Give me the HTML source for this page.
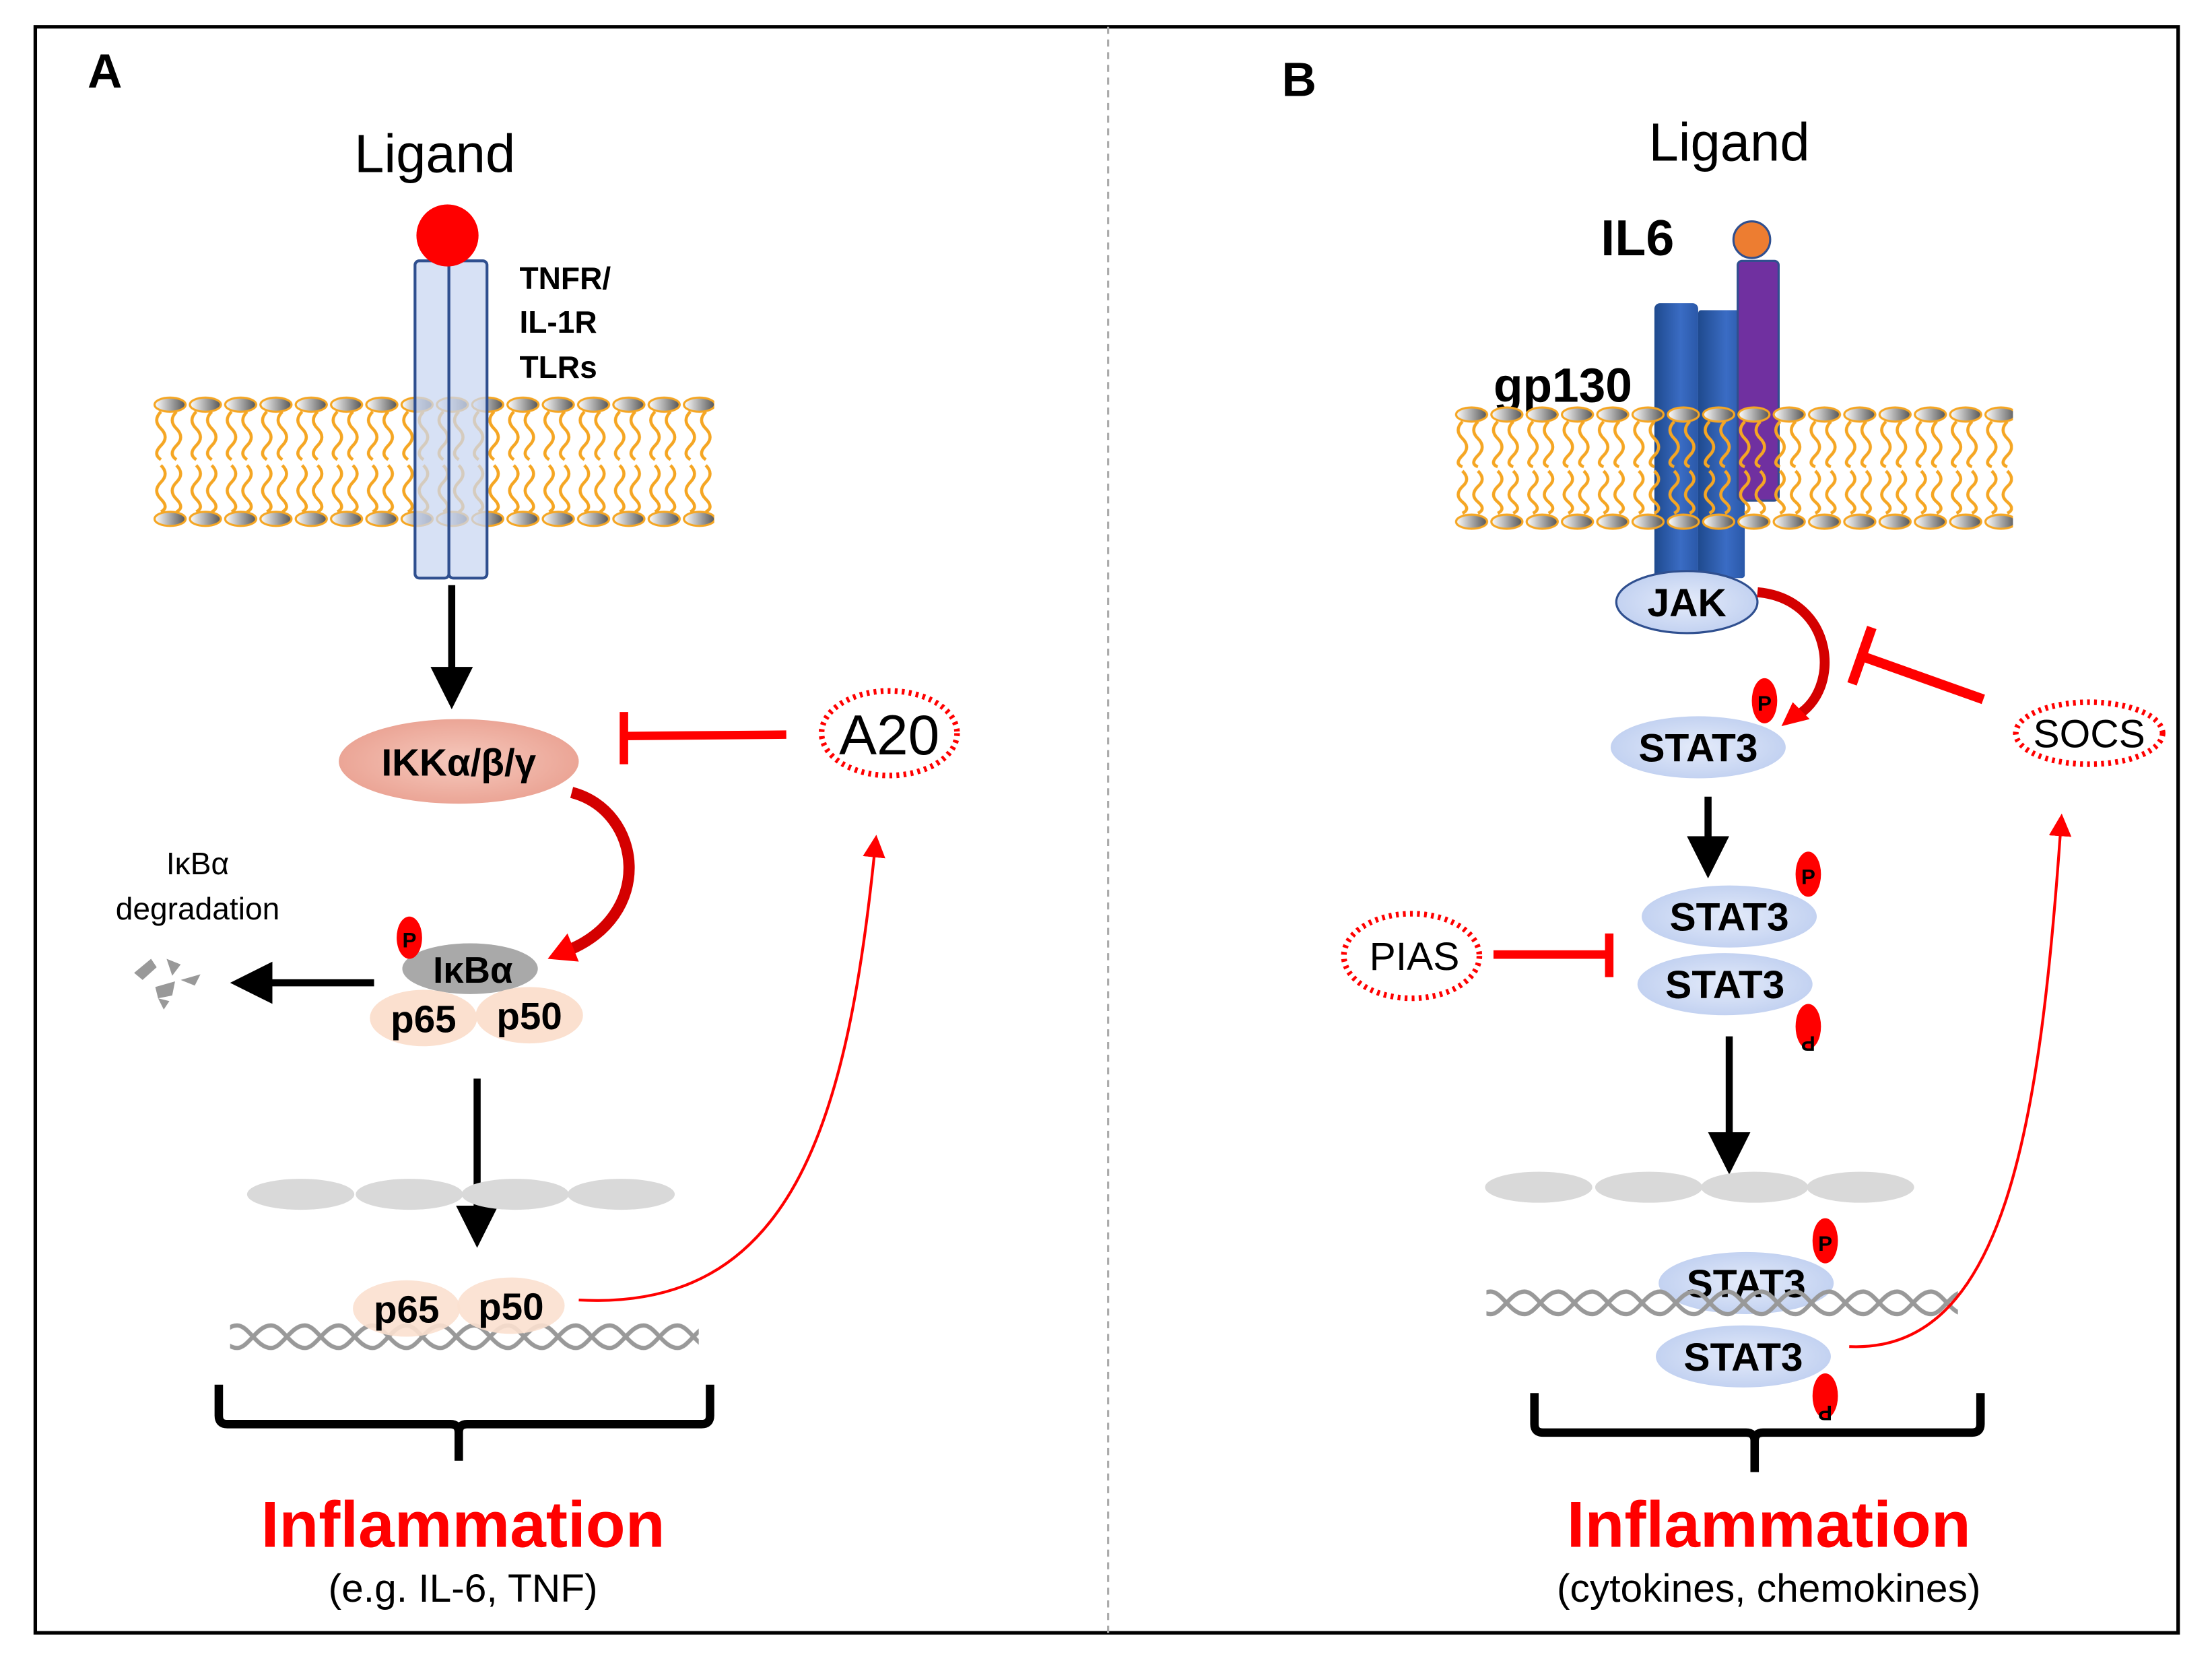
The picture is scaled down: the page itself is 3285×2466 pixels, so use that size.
<!DOCTYPE html>
<html><head><meta charset="utf-8"><style>
html,body{margin:0;padding:0;background:#fff;}
svg{display:block;}
text{font-family:"Liberation Sans",Arial,sans-serif;}
</style></head><body>
<svg width="3285" height="2466" viewBox="0 0 1567 1178" preserveAspectRatio="none" xmlns="http://www.w3.org/2000/svg">
<defs>
<linearGradient id="head" x1="0" x2="1"><stop offset="0" stop-color="#fff"/><stop offset="1" stop-color="#555"/></linearGradient>
<pattern id="memL" patternUnits="userSpaceOnUse" x="108" y="280" width="25" height="95">
<ellipse cx="12.5" cy="7" rx="11" ry="5" fill="url(#head)" stroke="#f5a623" stroke-width="1.5"/>
<ellipse cx="12.5" cy="88" rx="11" ry="5" fill="url(#head)" stroke="#f5a623" stroke-width="1.5"/>
<path d="M6 12 q-6 6 0 12 q6 6 0 12 q-6 6 0 10 M17 12 q-6 6 0 12 q6 6 0 12 q-6 6 0 10" fill="none" stroke="#f5a623" stroke-width="2.2"/>
<path d="M6 50 q6 6 0 12 q-6 6 0 12 q6 6 0 9 M17 50 q6 6 0 12 q-6 6 0 12 q6 6 0 9" fill="none" stroke="#f5a623" stroke-width="2.2"/>
</pattern>
<pattern id="memR" patternUnits="userSpaceOnUse" x="1030" y="287" width="25" height="90">
<ellipse cx="12.5" cy="7" rx="11" ry="5" fill="url(#head)" stroke="#f5a623" stroke-width="1.5"/>
<ellipse cx="12.5" cy="83" rx="11" ry="5" fill="url(#head)" stroke="#f5a623" stroke-width="1.5"/>
<path d="M6 12 q-6 6 0 12 q6 6 0 12 q-6 6 0 8 M17 12 q-6 6 0 12 q6 6 0 12 q-6 6 0 8" fill="none" stroke="#f5a623" stroke-width="2.2"/>
<path d="M6 47 q6 6 0 11 q-6 6 0 11 q6 5 0 8 M17 47 q6 6 0 11 q-6 6 0 11 q6 5 0 8" fill="none" stroke="#f5a623" stroke-width="2.2"/>
</pattern>
<pattern id="dna" patternUnits="userSpaceOnUse" width="24" height="24" y="0">
<path d="M0 4 C8 4 14 20 24 20 M0 20 C8 20 14 4 24 4" fill="none" stroke="#999" stroke-width="3"/>
</pattern>
<linearGradient id="cyl" x1="0" x2="1"><stop offset="0" stop-color="#1f4a8e"/><stop offset="0.6" stop-color="#3a6cc4"/><stop offset="1" stop-color="#2a58a8"/></linearGradient>
<radialGradient id="ikk"><stop offset="0" stop-color="#f6c9bd"/><stop offset="1" stop-color="#eba596"/></radialGradient>
<radialGradient id="stat"><stop offset="0" stop-color="#e4ebfa"/><stop offset="1" stop-color="#c3d2f1"/></radialGradient>
<marker id="ah" markerWidth="6" markerHeight="6" refX="3" refY="3" orient="auto" markerUnits="strokeWidth"><path d="M0 0 L6 3 L0 6 z" fill="#000"/></marker>
<marker id="rh" markerWidth="8" markerHeight="8" refX="4" refY="4" orient="auto" markerUnits="strokeWidth"><path d="M0 0 L8 4 L0 8 z" fill="#f00"/></marker>
</defs>

<rect x="25" y="19" width="1518" height="1139" fill="none" stroke="#000" stroke-width="2.5"/>
<line x1="785" y1="19" x2="785" y2="1158" stroke="#aaa" stroke-width="1.5" stroke-dasharray="5,4"/>
<text x="62" y="62" font-size="34" font-weight="bold">A</text>
<text x="908" y="68" font-size="34" font-weight="bold">B</text>

<!-- Panel A -->
<text x="308" y="122" font-size="38" text-anchor="middle">Ligand</text>
<rect x="108" y="280" width="398" height="95" fill="url(#memL)"/>
<rect x="294" y="185" width="24" height="225" rx="3" fill="#c9d7f2" fill-opacity="0.75" stroke="#2f4f8f" stroke-width="2"/>
<rect x="318" y="185" width="27" height="225" rx="3" fill="#c9d7f2" fill-opacity="0.75" stroke="#2f4f8f" stroke-width="2"/>
<circle cx="317" cy="167" r="22" fill="#f00"/>
<text x="368" y="205" font-size="22" font-weight="bold">TNFR/</text>
<text x="368" y="236" font-size="22" font-weight="bold">IL-1R</text>
<text x="368" y="268" font-size="22" font-weight="bold">TLRs</text>
<line x1="320" y1="415" x2="320" y2="488" stroke="#000" stroke-width="5" marker-end="url(#ah)"/>
<ellipse cx="325" cy="540" rx="85" ry="30" fill="url(#ikk)"/>
<text x="325" y="550" font-size="27" font-weight="bold" text-anchor="middle">IKKα/β/γ</text>
<line x1="557" y1="521" x2="442" y2="522" stroke="#f00" stroke-width="6"/>
<line x1="442" y1="505" x2="442" y2="542" stroke="#f00" stroke-width="6"/>
<ellipse cx="630" cy="520" rx="48" ry="30" fill="none" stroke="#f00" stroke-width="4" stroke-dasharray="2,3"/>
<text x="630" y="535" font-size="40" text-anchor="middle">A20</text>
<path d="M405 562 C455 575 465 650 400 675" fill="none" stroke="#d40000" stroke-width="8"/>
<path d="M388 680 L402 662 L410 682 z" fill="#f00"/>
<text x="140" y="620" font-size="22" text-anchor="middle">IκBα</text>
<text x="140" y="652" font-size="22" text-anchor="middle">degradation</text>
<g fill="#999"><path d="M95 690 l12 -10 l4 6 l-10 9z"/><path d="M110 700 l14 -4 l-2 10 l-10 2z"/><path d="M118 680 l10 4 l-6 8z"/><path d="M128 695 l14 -4 l-4 8z"/><path d="M112 708 l8 2 l-4 6z"/></g>
<line x1="265" y1="697" x2="178" y2="697" stroke="#000" stroke-width="5" marker-end="url(#ah)"/>
<ellipse cx="333" cy="687" rx="48" ry="18" fill="#a9a9a9"/>
<text x="335" y="697" font-size="26" font-weight="bold" text-anchor="middle">IκBα</text>
<ellipse cx="290" cy="665" rx="9" ry="15" fill="#f00"/>
<text x="290" y="672" font-size="15" font-weight="bold" text-anchor="middle">P</text>
<ellipse cx="300" cy="722" rx="38" ry="20" fill="#fbe0cf"/>
<ellipse cx="375" cy="720" rx="38" ry="20" fill="#fbe0cf"/>
<text x="300" y="732" font-size="27" font-weight="bold" text-anchor="middle">p65</text>
<text x="375" y="730" font-size="27" font-weight="bold" text-anchor="middle">p50</text>
<line x1="338" y1="765" x2="338" y2="870" stroke="#000" stroke-width="5" marker-end="url(#ah)"/>
<g fill="#d9d9d9"><ellipse cx="213" cy="847" rx="38" ry="11"/><ellipse cx="290" cy="847" rx="38" ry="11"/><ellipse cx="365" cy="847" rx="38" ry="11"/><ellipse cx="440" cy="847" rx="38" ry="11"/></g>
<rect x="163" y="938" width="332" height="24" fill="url(#dna)"/>
<ellipse cx="288" cy="928" rx="38" ry="20" fill="#fbe0cf" fill-opacity="0.9"/>
<ellipse cx="362" cy="926" rx="38" ry="20" fill="#fbe0cf" fill-opacity="0.9"/>
<text x="288" y="938" font-size="27" font-weight="bold" text-anchor="middle">p65</text>
<text x="362" y="936" font-size="27" font-weight="bold" text-anchor="middle">p50</text>
<path d="M410 922 C560 930 600 800 620 600" fill="none" stroke="#f00" stroke-width="2" marker-end="url(#rh)"/>
<path d="M155 982 v22 q0 6 6 6 h158 q6 0 6 6 v20 M503 982 v22 q0 6 -6 6 h-166 q-6 0 -6 6" fill="none" stroke="#000" stroke-width="6"/>
<text x="328" y="1097" font-size="46" font-weight="bold" fill="#f00" text-anchor="middle">Inflammation</text>
<text x="328" y="1136" font-size="28" text-anchor="middle">(e.g. IL-6, TNF)</text>

<!-- Panel B -->
<text x="1225" y="114" font-size="38" text-anchor="middle">Ligand</text>
<text x="1160" y="181" font-size="36" font-weight="bold" text-anchor="middle">IL6</text>
<rect x="1172" y="215" width="31" height="195" rx="4" fill="url(#cyl)"/>
<rect x="1203" y="220" width="33" height="190" rx="2" fill="url(#cyl)"/>
<rect x="1231" y="185" width="29" height="170" rx="3" fill="#7030a0" stroke="#2f4f8f" stroke-width="1.5"/>
<circle cx="1241" cy="170" r="13" fill="#ed7d31" stroke="#2f4f8f" stroke-width="1.5"/>
<text x="1058" y="285" font-size="34" font-weight="bold">gp130</text>
<rect x="1030" y="287" width="396" height="90" fill="url(#memR)"/>
<ellipse cx="1195" cy="427" rx="50" ry="22" fill="url(#stat)" stroke="#2f4f8f" stroke-width="1.5"/>
<text x="1195" y="437" font-size="28" font-weight="bold" text-anchor="middle">JAK</text>
<path d="M1245 420 C1300 425 1305 490 1272 508" fill="none" stroke="#d40000" stroke-width="7"/>
<path d="M1262 515 L1270 498 L1282 510 z" fill="#f00"/>
<ellipse cx="1250" cy="497" rx="9" ry="16" fill="#f00"/>
<text x="1250" y="504" font-size="15" font-weight="bold" text-anchor="middle">P</text>
<ellipse cx="1203" cy="530" rx="62" ry="22" fill="url(#stat)"/>
<text x="1203" y="540" font-size="28" font-weight="bold" text-anchor="middle">STAT3</text>
<line x1="1405" y1="496" x2="1318" y2="465" stroke="#f00" stroke-width="7"/>
<line x1="1326" y1="445" x2="1312" y2="485" stroke="#f00" stroke-width="7"/>
<ellipse cx="1480" cy="520" rx="52" ry="22" fill="none" stroke="#f00" stroke-width="4" stroke-dasharray="2,3"/>
<text x="1480" y="530" font-size="28" text-anchor="middle">SOCS</text>
<line x1="1210" y1="565" x2="1210" y2="608" stroke="#000" stroke-width="5" marker-end="url(#ah)"/>
<ellipse cx="1225" cy="650" rx="62" ry="22" fill="url(#stat)"/>
<text x="1225" y="660" font-size="28" font-weight="bold" text-anchor="middle">STAT3</text>
<ellipse cx="1222" cy="698" rx="62" ry="22" fill="url(#stat)"/>
<text x="1222" y="708" font-size="28" font-weight="bold" text-anchor="middle">STAT3</text>
<ellipse cx="1281" cy="620" rx="9" ry="16" fill="#f00"/><text x="1281" y="627" font-size="15" font-weight="bold" text-anchor="middle">P</text>
<ellipse cx="1281" cy="728" rx="9" ry="16" fill="#f00"/><text x="1281" y="721" font-size="15" font-weight="bold" text-anchor="middle" transform="rotate(180 1281 728)">P</text>
<ellipse cx="1000" cy="678" rx="48" ry="30" fill="none" stroke="#f00" stroke-width="4" stroke-dasharray="2,3"/>
<text x="1002" y="688" font-size="28" text-anchor="middle">PIAS</text>
<line x1="1058" y1="677" x2="1140" y2="677" stroke="#f00" stroke-width="6"/>
<line x1="1140" y1="662" x2="1140" y2="693" stroke="#f00" stroke-width="6"/>
<line x1="1225" y1="735" x2="1225" y2="818" stroke="#000" stroke-width="5" marker-end="url(#ah)"/>
<g fill="#d9d9d9"><ellipse cx="1090" cy="842" rx="38" ry="11"/><ellipse cx="1168" cy="842" rx="38" ry="11"/><ellipse cx="1243" cy="842" rx="38" ry="11"/><ellipse cx="1318" cy="842" rx="38" ry="11"/></g>
<ellipse cx="1237" cy="910" rx="62" ry="22" fill="url(#stat)"/>
<text x="1237" y="920" font-size="28" font-weight="bold" text-anchor="middle">STAT3</text>
<rect x="1053" y="913" width="334" height="24" fill="url(#dna)"/>
<ellipse cx="1235" cy="962" rx="62" ry="22" fill="url(#stat)"/>
<text x="1235" y="972" font-size="28" font-weight="bold" text-anchor="middle">STAT3</text>
<ellipse cx="1293" cy="880" rx="9" ry="16" fill="#f00"/><text x="1293" y="887" font-size="15" font-weight="bold" text-anchor="middle">P</text>
<ellipse cx="1293" cy="990" rx="9" ry="16" fill="#f00"/><text x="1293" y="983" font-size="15" font-weight="bold" text-anchor="middle" transform="rotate(180 1293 990)">P</text>
<path d="M1310 955 C1420 960 1445 800 1460 585" fill="none" stroke="#f00" stroke-width="2" marker-end="url(#rh)"/>
<path d="M1087 988 v22 q0 6 6 6 h144 q6 0 6 6 v22 M1403 988 v22 q0 6 -6 6 h-148 q-6 0 -6 6" fill="none" stroke="#000" stroke-width="6"/>
<text x="1253" y="1097" font-size="46" font-weight="bold" fill="#f00" text-anchor="middle">Inflammation</text>
<text x="1253" y="1136" font-size="28" text-anchor="middle">(cytokines, chemokines)</text>
</svg>
</body></html>
